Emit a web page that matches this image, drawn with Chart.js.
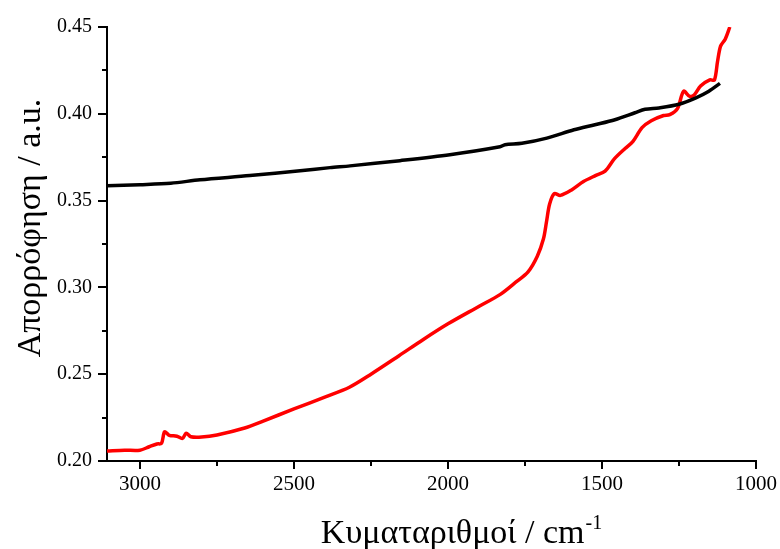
<!DOCTYPE html>
<html>
<head>
<meta charset="utf-8">
<script src="https://cdn.jsdelivr.net/npm/chart.js@4"></script>
<style>
  body { margin: 0; background: #fff; }
  #wrap { width: 780px; height: 549px; }
</style>
</head>
<body>
<div id="wrap"><canvas id="spectrum"></canvas></div>
<script>
// wavenumbers (cm-1) and absorbance
const redX = [3107, 3050, 3000, 2970, 2945, 2930, 2920, 2905, 2880, 2862, 2850, 2835, 2800, 2750, 2660, 2600, 2500, 2400, 2320, 2250, 2160, 2080, 2000, 1900, 1830, 1780, 1740, 1710, 1690, 1680, 1670, 1655, 1635, 1600, 1560, 1520, 1490, 1460, 1425, 1400, 1370, 1340, 1300, 1280, 1255, 1235, 1215, 1200, 1180, 1150, 1135, 1125, 1115, 1100, 1085];
const redY = [0.2058, 0.2062, 0.2062, 0.2082, 0.2098, 0.2102, 0.2168, 0.2148, 0.2143, 0.2130, 0.2160, 0.2140, 0.2138, 0.2150, 0.2190, 0.2230, 0.2300, 0.2368, 0.2425, 0.2500, 0.2605, 0.2700, 0.2790, 0.2890, 0.2960, 0.3030, 0.3090, 0.3180, 0.3280, 0.3380, 0.3480, 0.3540, 0.3530, 0.3560, 0.3610, 0.3645, 0.3670, 0.3740, 0.3800, 0.3840, 0.3920, 0.3960, 0.3990, 0.3995, 0.4030, 0.4130, 0.4100, 0.4110, 0.4160, 0.4195, 0.4195, 0.4300, 0.4390, 0.4430, 0.4500];

const blackX = [3107, 3000, 2900, 2805, 2643, 2480, 2383, 2318, 2156, 1994, 1831, 1815, 1760, 1679, 1591, 1523, 1458, 1393, 1360, 1315, 1250, 1195, 1153, 1117];
const blackY = [0.3586, 0.3592, 0.3600, 0.3620, 0.3644, 0.3672, 0.3690, 0.3700, 0.3730, 0.3764, 0.3810, 0.3822, 0.3830, 0.3860, 0.3908, 0.3937, 0.3966, 0.4006, 0.4026, 0.4034, 0.4055, 0.4092, 0.4130, 0.4175];

const xMajor = [3000, 2500, 2000, 1500, 1000];
const xMinor = [2750, 2250, 1750, 1250];
const yMajor = [0.20, 0.25, 0.30, 0.35, 0.40, 0.45];
const yMinor = [0.225, 0.275, 0.325, 0.375, 0.425];

const xTitle = "Κυματαριθμοί / cm";
const xTitleSup = "-1";
const yTitle = "Απορρόφηση / a.u.";

const serif = "'Liberation Serif', 'Times New Roman', serif";

const toPoints = (xs, ys) => xs.map((x, i) => ({ x: x, y: ys[i] }));

// minor ticks and the two axis titles
const extras = {
  id: "extras",
  afterDraw(chart) {
    const c = chart.ctx;
    const xs = chart.scales.x, ys = chart.scales.y;
    const area = chart.chartArea;
    c.save();
    c.strokeStyle = "#000";
    c.lineWidth = 2;
    c.beginPath();
    xMinor.forEach(v => {
      const px = Math.round(xs.getPixelForValue(v));
      c.moveTo(px, area.bottom);
      c.lineTo(px, area.bottom + 5);
    });
    yMinor.forEach(v => {
      const py = Math.round(ys.getPixelForValue(v));
      c.moveTo(area.left, py);
      c.lineTo(area.left - 5, py);
    });
    c.stroke();

    c.fillStyle = "#000";
    // x title with superscript
    c.font = "34px " + serif;
    const w1 = c.measureText(xTitle).width;
    c.font = "20px " + serif;
    const w2 = c.measureText(xTitleSup).width;
    const x0 = 461 - (w1 + w2) / 2;
    c.textBaseline = "alphabetic";
    c.textAlign = "left";
    c.font = "34px " + serif;
    c.fillText(xTitle, x0, 543);
    c.font = "20px " + serif;
    c.fillText(xTitleSup, x0 + w1 + 1, 529);

    // y title
    c.translate(31, 228);
    c.rotate(-Math.PI / 2);
    c.textAlign = "center";
    c.textBaseline = "middle";
    c.font = "34px " + serif;
    c.fillText(yTitle, 0, 0);
    c.restore();
  }
};

new Chart(document.getElementById("spectrum"), {
  type: "line",
  data: {
    datasets: [
      {
        label: "black",
        data: toPoints(blackX, blackY),
        borderColor: "#000000",
        borderWidth: 3.5,
        pointRadius: 0,
        tension: 0.3
      },
      {
        label: "red",
        data: toPoints(redX, redY),
        borderColor: "#ff0000",
        borderWidth: 3.5,
        pointRadius: 0,
        tension: 0.3
      }
    ]
  },
  options: {
    responsive: true,
    maintainAspectRatio: false,
    animation: false,
    layout: { padding: { top: 27, right: 23, left: 0, bottom: 0 } },
    plugins: { legend: { display: false }, tooltip: { enabled: false } },
    scales: {
      x: {
        type: "linear",
        reverse: true,
        min: 1000,
        max: 3107,
        afterBuildTicks: s => { s.ticks = xMajor.map(v => ({ value: v })); },
        afterFit: s => { s.height = 88; },
        border: { color: "#000", width: 2 },
        grid: { drawOnChartArea: false, tickLength: 8, tickColor: "#000", lineWidth: 2 },
        ticks: {
          color: "#000",
          font: { family: serif, size: 21 },
          padding: 3,
          maxRotation: 0,
          callback: v => String(v)
        }
      },
      y: {
        min: 0.20,
        max: 0.45,
        afterBuildTicks: s => { s.ticks = yMajor.map(v => ({ value: v })); },
        afterFit: s => { s.width = 107; },
        border: { color: "#000", width: 2 },
        grid: { drawOnChartArea: false, tickLength: 9, tickColor: "#000", lineWidth: 2 },
        ticks: {
          color: "#000",
          font: { family: serif, size: 20 },
          padding: 6,
          callback: v => v.toFixed(2)
        }
      }
    }
  },
  plugins: [extras]
});
</script>
</body>
</html>
